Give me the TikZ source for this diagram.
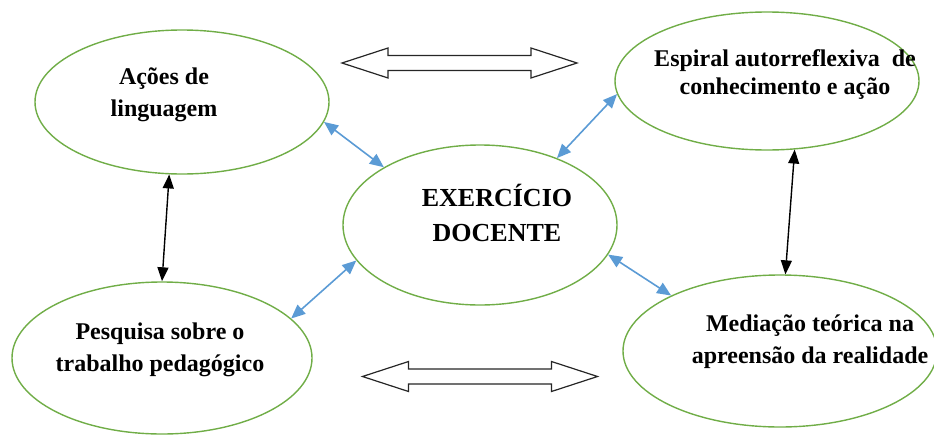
\documentclass[tikz,border=0pt]{standalone}
\usepackage{fontspec}
\setmainfont{Liberation Serif}
\usetikzlibrary{shapes.geometric,arrows.meta}
\definecolor{ellgreen}{HTML}{70AD47}
\definecolor{arrblue}{HTML}{5B9BD5}
\tikzset{
  ell/.style={draw=ellgreen, line width=1.4pt, ellipse, inner sep=0pt},
  lbl/.style={inner sep=0pt, align=center, font=\bfseries\fontsize{24}{32}\selectfont},
  bluelink/.style={draw=arrblue, line width=1.6pt, {Triangle[length=14pt,width=12pt]}-{Triangle[length=14pt,width=12pt]}},
  blacklink/.style={draw=black, line width=1.4pt, {Triangle[length=14pt,width=11pt]}-{Triangle[length=14pt,width=11pt]}},
  hollowarrow/.pic={
    \draw[line width=1.2pt, fill=white, line join=miter, draw=black!85]
      (-117.5,0) -- (-71.5,15) -- (-71.5,7.5) -- (71.5,7.5) -- (71.5,15) -- (117.5,0)
      -- (71.5,-15) -- (71.5,-7.5) -- (-71.5,-7.5) -- (-71.5,-15) -- cycle;
  }
}
\begin{document}
\begin{tikzpicture}[x=1pt,y=-1pt]
\useasboundingbox (0,0) rectangle (934,434);
% ellipses
\node[ell, minimum width=294pt, minimum height=144pt] (tl) at (182,102) {};
\node[ell, minimum width=304pt, minimum height=138pt] (tr) at (767,81) {};
\node[ell, minimum width=274pt, minimum height=160pt] (c) at (480,225) {};
\node[ell, minimum width=300pt, minimum height=152pt] (bl) at (162,358) {};
\node[ell, minimum width=314pt, minimum height=152pt] (br) at (780,351) {};
% labels
\node[lbl] (tlt) at (164,95) {Ações de\\linguagem};
\node[lbl, font=\bfseries\fontsize{24}{28}\selectfont] (trt) at (785,75) {Espiral autorreflexiva~ de\\conhecimento e ação};
\node[lbl, font=\bfseries\fontsize{26}{35}\selectfont] (ct) at (497,213) {EXERCÍCIO\\DOCENTE};
\node[lbl] (blt) at (160,350) {Pesquisa sobre o\\trabalho pedagógico};
\node[lbl] (brt) at (810,342) {Mediação teórica na\\apreensão da realidade};
% blue links
\draw[bluelink] (tl.-8) -- (c.149);
\draw[bluelink] (tr.185) -- (c.41);
\draw[bluelink] (bl.17.5) -- (c.196);
\draw[bluelink] (br.153) -- (c.-13);
% black links
\draw[blacklink] (tl.260.7) -- (bl.90.8);
\draw[blacklink] (tr.-68) -- (br.86);
% hollow arrows
\pic at (459.5,63) {hollowarrow};
\pic at (480,376.5) {hollowarrow};
\end{tikzpicture}
\end{document}
